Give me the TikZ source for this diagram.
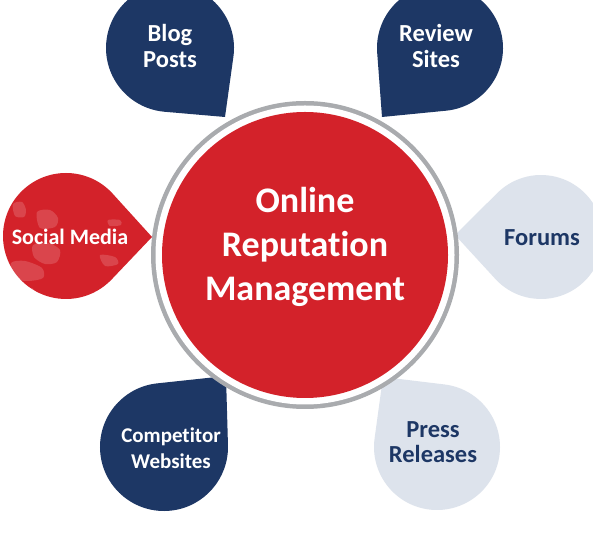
\documentclass[tikz,border=0pt]{standalone}
\usepackage{fontspec}
\setmainfont{Carlito}[Ligatures={NoCommon}]
\usetikzlibrary{calc}
\definecolor{ormred}{HTML}{D3222A}
\definecolor{ormnavy}{HTML}{1D3765}
\definecolor{ormlight}{HTML}{DDE3EC}
\definecolor{ormring}{HTML}{A9ABAE}
\newcommand\dropshape[6]{%
 \pgfmathsetmacro\dphi{atan2(#6-#3,#5-#2)}%
 \pgfmathsetmacro\ddist{veclen(#5-#2,#6-#3)}%
 \pgfmathsetmacro\dal{acos(#4/\ddist)}%
 \pgfmathsetmacro\dsa{\dphi+\dal}%
 \pgfmathsetmacro\dea{\dphi-\dal+360}%
 \fill[#1] (#5,#6) -- ($(#2,#3)+(\dsa:#4)$) arc[start angle=\dsa,end angle=\dea,radius=#4] -- cycle;}
\tikzset{
  lbl/.style={align=center,inner sep=0pt,font=\bfseries\fontsize{24.5}{25.5}\selectfont},
  whitelbl/.style={lbl,text=white},
  navylbl/.style={lbl,text=ormnavy},
  spot/.style={fill=white,opacity=0.16}
}
\begin{document}
\begin{tikzpicture}[x=1pt,y=1pt]
\useasboundingbox (0,0) rectangle (593,540);
\fill[white] (0,0) rectangle (593,540);
\begin{scope}
\clip (0,0) rectangle (593,540);
% drops
\dropshape{ormnavy}{170}{492}{64}{225}{423}
\dropshape{ormnavy}{440}{492}{63}{382}{423}
\dropshape{ormred}{66}{304}{63}{152}{303}
\dropshape{ormlight}{541}{303}{62}{455}{305}
\dropshape{ormnavy}{164}{93}{64}{226}{164}
\dropshape{ormlight}{437}{93}{63}{383}{163}
\end{scope}
% texture on social media drop
\fill[spot] plot[smooth cycle] coordinates {(13,336) (22,338) (26,330) (24,323) (15,324)};
\fill[spot] plot[smooth cycle] coordinates {(37,328) (50,330) (58,322) (55,313) (40,312)};
\fill[spot] plot[smooth cycle] coordinates {(33,295) (48,297) (60,290) (57,278) (45,276) (34,283)};
\fill[spot] plot[smooth cycle] coordinates {(11,277) (25,279) (42,272) (43,262) (28,259) (14,262)};
\fill[spot] plot[smooth cycle] coordinates {(18,250) (32,252) (36,244) (25,240)};
\fill[spot] plot[smooth cycle] coordinates {(108,320) (120,320) (121,315) (110,314)};
\fill[spot] plot[smooth cycle] coordinates {(100,285) (115,283) (118,276) (105,274)};
% central circle
\fill[ormring] (305,285) circle (154);
\fill[white] (305,285) circle (149.5);
\fill[ormred] (305,285) circle (143);
% labels
\node[whitelbl] (blog) at (170,494) {Blog\\Posts};
\node[whitelbl] (review) at (436,494) {Review\\Sites};
\node[whitelbl,font=\bfseries\fontsize{22}{24}\selectfont] (social) at (70,303) {Social Media};
\node[navylbl] (forums) at (542,302) {Forums};
\node[whitelbl,font=\bfseries\fontsize{21}{25.5}\selectfont] (comp) at (171,92) {Competitor\\Websites};
\node[navylbl] (press) at (433,98) {Press\\Releases};
\node[whitelbl,font=\bfseries\fontsize{36}{44}\selectfont] (center) at (305,293) {Online\\Reputation\\Management};
\end{tikzpicture}
\end{document}
